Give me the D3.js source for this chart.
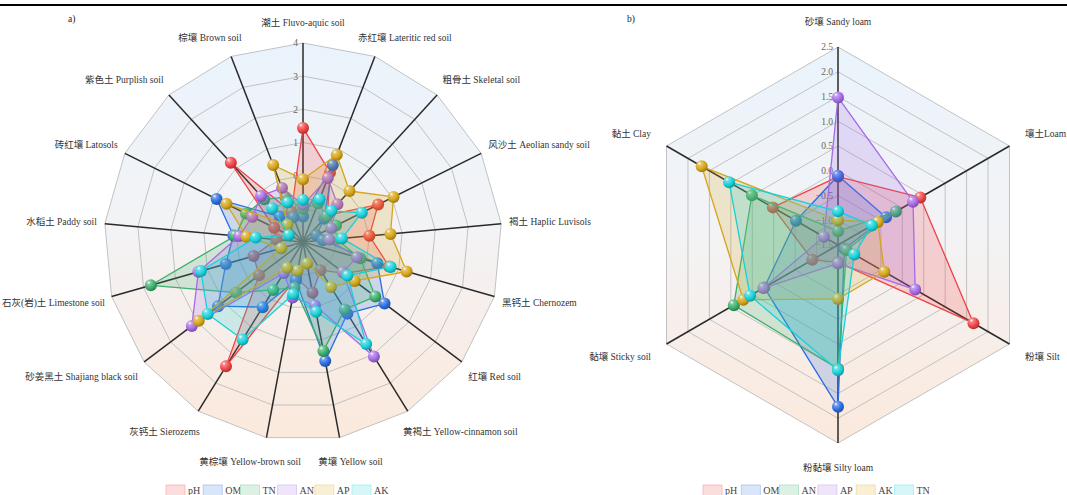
<!DOCTYPE html>
<html>
<head>
<meta charset="utf-8">
<script src="https://cdn.jsdelivr.net/npm/d3@7"></script>
<style>
  body { margin: 0; background: #fff; }
  text { font-family: "Liberation Serif", "Times New Roman", "Noto Sans CJK SC", serif; }
</style>
</head>
<body>
<svg id="chart" width="1067" height="495"></svg>
<script>
// ---- data: panel a) soil types, standardised values ----
const soilTypes = ['潮土 Fluvo-aquic soil', '赤红壤 Lateritic red soil', '粗骨土 Skeletal soil',
  '风沙土 Aeolian sandy soil', '褐土 Haplic Luvisols', '黑钙土 Chernozem', '红壤 Red soil',
  '黄褐土 Yellow-cinnamon soil', '黄壤 Yellow soil', '黄棕壤 Yellow-brown soil', '灰钙土 Sierozems',
  '砂姜黑土 Shajiang black soil', '石灰(岩)土 Limestone soil', '水稻土 Paddy soil', '砖红壤 Latosols',
  '紫色土 Purplish soil', '棕壤 Brown soil'];
const soilPH = [1.44, 0.25, -0.9, 0.53, 0.01, 0.7, -0.43, -1.0, -0.44, -0.9, 2.41, -0.34, -0.45, -1.2, -1.03, 1.23, -1.03];
const soilOM = [-1.23, 0.49, -1.05, -1.55, -1.4, 0.33, 1.08, 0.54, 1.65, -0.83, 0.31, 1.21, 0.42, 0.11, 0.91, -0.96, -1.2];
const soilTN = [-1.0, -0.75, -0.95, -0.89, -1.0, -0.2, 0.73, 0.39, 1.34, -0.6, -0.3, 0.53, 2.77, 0.05, -0.08, -0.26, -0.55];
const soilAN = [-0.88, 0.07, -0.46, -1.05, -1.2, -0.31, -0.5, 2.06, -0.06, -0.3, -0.9, 2.2, 1.28, -0.07, -0.29, -0.12, -0.25];
const soilAP = [-0.11, 0.82, 0.08, 1.05, 0.65, 1.25, -0.05, -0.4, -1.34, -1.12, -1.09, 1.94, -1.32, -0.29, 0.58, -1.3, 0.49];
const soilAK = [-0.73, -0.62, -0.73, -0.02, -0.82, 0.75, -0.32, 1.62, 0.14, -0.4, 1.46, 1.6, 1.2, -0.57, -1.52, -0.62, -0.72];
const soilTicks = [-2, -1, 0, 1, 2, 3, 4];

// ---- data: panel b) soil texture ----
const textures = ['砂壤 Sandy loam', '壤土Loam', '粉壤 Silt', '粉黏壤 Silty loam', '黏壤 Sticky soil', '黏土 Clay'];
const texPH = [-0.12, 0.42, 1.66, -1.15, -0.9, 0.02];
const texOM = [-0.1, -0.38, -1.35, 1.77, 0.22, -0.52];
const texAN = [-1.22, -0.15, -1.3, 1.0, 0.93, 0.51];
const texAP = [1.48, 0.25, 0.3, -1.13, 0.24, -1.17];
const texAK = [-1.0, -0.57, -0.42, -0.41, 0.71, 1.68];
const texTN = [-0.82, -0.71, -1.12, 1.03, 0.55, 1.04];
const texTicks = [-1.5, -1.0, -0.5, 0.0, 0.5, 1.0, 1.5, 2.0, 2.5];

const palette = ['#ef4244', '#2a6ce0', '#3aae6a', '#a66ae4', '#d6a417', '#18d0d8'];

const svg = d3.select('#chart');
const defs = svg.append('defs');

// glossy ball gradients
palette.forEach((c, i) => {
  const grad = defs.append('radialGradient').attr('id', 'ball' + i)
    .attr('cx', '38%').attr('cy', '32%').attr('r', '70%').attr('fx', '32%').attr('fy', '26%');
  grad.append('stop').attr('offset', '0%').attr('stop-color', '#ffffff');
  grad.append('stop').attr('offset', '22%').attr('stop-color', d3.interpolateRgb(c, '#fff')(0.35));
  grad.append('stop').attr('offset', '65%').attr('stop-color', c);
  grad.append('stop').attr('offset', '100%').attr('stop-color', d3.color(c).darker(0.9));
});

// background gradient of the radar
const bg = defs.append('linearGradient').attr('id', 'radarBg').attr('x1', 0).attr('y1', 0).attr('x2', 0).attr('y2', 1);
bg.append('stop').attr('offset', '0%').attr('stop-color', '#eaf3fc');
bg.append('stop').attr('offset', '45%').attr('stop-color', '#f3f3f6');
bg.append('stop').attr('offset', '100%').attr('stop-color', '#fbe9dc');

// top rule
svg.append('line').attr('x1', 0).attr('x2', 1067).attr('y1', 5).attr('y2', 5)
  .attr('stroke', '#000').attr('stroke-width', 2.2);

function drawRadar(cfg) {
  const g = svg.append('g').attr('transform', `translate(${cfg.cx},${cfg.cy})`);
  const n = cfg.axes.length;
  const angle = d3.scaleLinear().domain([0, n]).range([0, 2 * Math.PI]);
  const r = d3.scaleLinear().domain([cfg.ticks[0], cfg.ticks[cfg.ticks.length - 1]]).range([0, cfg.radius]);
  const pt = (i, v) => [r(v) * Math.sin(angle(i)), -r(v) * Math.cos(angle(i))];
  const ring = v => d3.range(n).map(i => pt(i, v));
  const closed = d3.line().curve(d3.curveLinearClosed);
  const maxV = cfg.ticks[cfg.ticks.length - 1];

  g.append('path').attr('d', closed(ring(maxV))).attr('fill', 'url(#radarBg)');

  cfg.ticks.slice(1).forEach(v => {
    g.append('path').attr('d', closed(ring(v)))
      .attr('fill', 'none').attr('stroke', '#c2c2c2').attr('stroke-width', 1);
  });

  // spokes
  g.selectAll('line.spoke').data(cfg.axes).join('line')
    .attr('x1', 0).attr('y1', 0)
    .attr('x2', (d, i) => pt(i, maxV)[0]).attr('y2', (d, i) => pt(i, maxV)[1])
    .attr('stroke', '#2a2a2a').attr('stroke-width', 1.5);

  // tick labels along first axis
  g.selectAll('text.tick').data(cfg.ticks).join('text')
    .attr('x', -5).attr('y', d => -r(d))
    .attr('dy', '0.35em').attr('text-anchor', 'end')
    .attr('font-size', 9.5).attr('fill', '#666')
    .text(cfg.tickFormat);

  // axis names: small horizontal gap, larger vertical gap, alignment slides from centre to side
  g.selectAll('text.name').data(cfg.axes).join('text')
    .attr('font-size', 9.5).attr('fill', '#333').attr('text-anchor', 'middle').attr('dy', '0.35em')
    .text(d => d)
    .each(function (d, i) {
      const a = angle(i);
      const sx = Math.sin(a), cy = -Math.cos(a);
      const w = this.getComputedTextLength();
      const h = Math.max(-1, Math.min(1, sx * 1.6));
      const x = cfg.radius * sx + cfg.gapX * sx + (w / 2) * h;
      const y = cfg.radius * cy + cfg.gapY * cy + (cy > 0 ? cfg.lowExtra * cy : 0);
      d3.select(this).attr('x', Math.max(x, -cfg.cx + w / 2 + 2)).attr('y', y);
    });

  // series
  cfg.series.forEach((s, si) => {
    const pts = s.values.map((v, i) => pt(i, v));
    const sg = g.append('g');
    sg.append('path').attr('d', closed(pts))
      .attr('fill', palette[si]).attr('fill-opacity', 0.2)
      .attr('stroke', palette[si]).attr('stroke-width', 1.3).attr('stroke-linejoin', 'round');
    sg.selectAll('circle').data(pts).join('circle')
      .attr('cx', d => d[0]).attr('cy', d => d[1]).attr('r', 6)
      .attr('fill', `url(#ball${si})`);
  });

  // panel letter
  svg.append('text').attr('x', cfg.letterX).attr('y', 22).attr('font-size', 9.5)
    .attr('fill', '#222').text(cfg.letter);

  // legend
  const lg = svg.append('g').attr('transform', `translate(${cfg.legendX},485)`);
  cfg.series.forEach((s, si) => {
    const item = lg.append('g').attr('transform', `translate(${si * cfg.legendStep},0)`);
    item.append('rect').attr('width', 19).attr('height', 13)
      .attr('fill', d3.interpolateRgb(palette[si], '#fff')(0.82))
      .attr('stroke', d3.interpolateRgb(palette[si], '#fff')(0.6)).attr('stroke-width', 0.8);
    item.append('text').attr('x', 22).attr('y', 8.8).attr('font-size', 10)
      .attr('fill', '#444').text(s.name);
  });
}

drawRadar({
  cx: 303, cy: 242, radius: 199, gapX: 8, gapY: 20, lowExtra: 4,
  axes: soilTypes, ticks: soilTicks, tickFormat: d3.format('d'),
  letter: 'a)', letterX: 68, legendX: 166, legendStep: 37.2,
  series: [
    { name: 'pH', values: soilPH }, { name: 'OM', values: soilOM }, { name: 'TN', values: soilTN },
    { name: 'AN', values: soilAN }, { name: 'AP', values: soilAP }, { name: 'AK', values: soilAK }
  ]
});

drawRadar({
  cx: 838, cy: 245, radius: 198, gapX: 18, gapY: 25, lowExtra: 0,
  axes: textures, ticks: texTicks, tickFormat: d3.format('.1f'),
  letter: 'b)', letterX: 627, legendX: 703, legendStep: 38.3,
  series: [
    { name: 'pH', values: texPH }, { name: 'OM', values: texOM }, { name: 'AN', values: texAN },
    { name: 'AP', values: texAP }, { name: 'AK', values: texAK }, { name: 'TN', values: texTN }
  ]
});
</script>
</body>
</html>
